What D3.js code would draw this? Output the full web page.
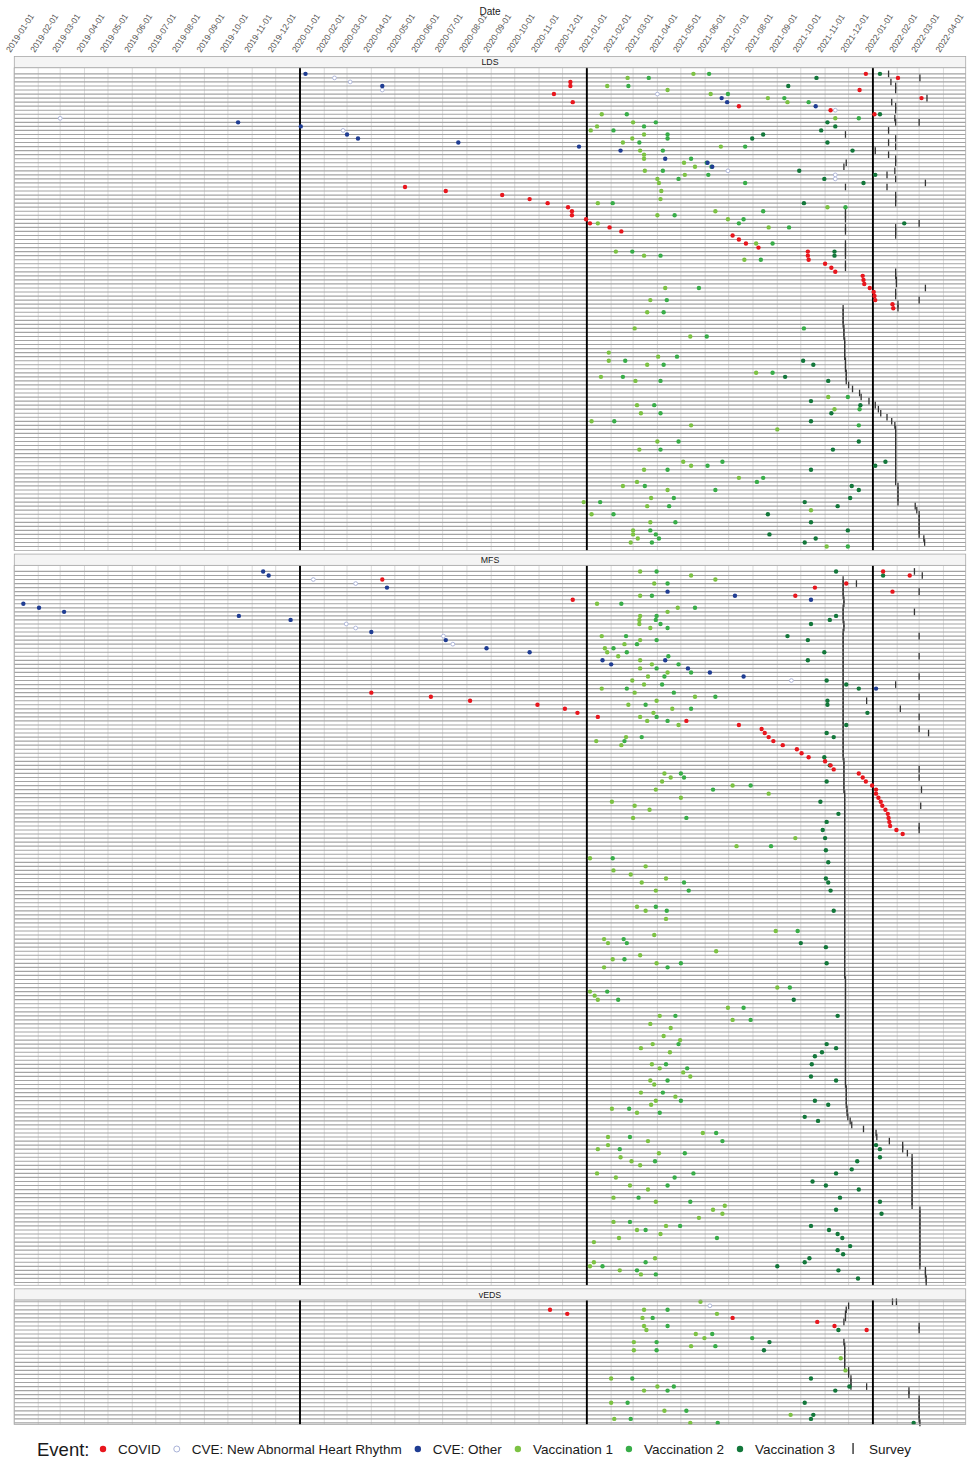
<!DOCTYPE html>
<html>
<head>
<meta charset="utf-8">
<script src="https://cdn.jsdelivr.net/npm/d3@7"></script>
<style>
  body { margin: 0; background: #fff; }
  text { font-family: "Liberation Sans", Arial, sans-serif; }
</style>
</head>
<body>
<svg id="chart" width="969" height="1460"></svg>
<script>

// ---- data: [row, date] per panel and event type ----

const panelNames = [ "LDS", "MFS", "vEDS" ];
const panelRows = [ 118, 177, 31 ];

const ldsCovid = [[0,"2021-12-23"],[1,"2022-02-02"],[2,"2020-12-11"],[3,"2020-12-11"],[4,"2021-12-15"],[5,"2020-11-20"],[6,"2022-03-04"],[7,"2020-12-14"],[8,"2021-07-14"],[9,"2021-11-08"],[10,"2022-01-03"],
  [28,"2020-05-14"],[29,"2020-07-05"],[30,"2020-09-15"],[31,"2020-10-20"],[32,"2020-11-12"],[33,"2020-12-08"],[34,"2020-12-13"],[35,"2020-12-13"],[36,"2020-12-31"],[37,"2021-01-05"],[38,"2021-01-30"],[39,"2021-02-14"],
  [40,"2021-07-06"],[41,"2021-07-14"],[42,"2021-07-23"],[43,"2021-08-08"],[44,"2021-10-10"],[45,"2021-10-10"],[46,"2021-10-11"],[47,"2021-11-01"],[48,"2021-11-09"],[49,"2021-11-14"],[50,"2021-12-19"],[51,"2021-12-20"],
  [52,"2021-12-21"],[53,"2021-12-28"],[54,"2022-01-02"],[55,"2022-01-03"],[56,"2022-01-04"],[57,"2022-01-26"],[58,"2022-01-27"]];
const ldsRhythm = [[1,"2020-02-14"],[2,"2020-03-05"],[4,"2020-04-15"],[5,"2021-04-01"],[9,"2021-11-14"],[11,"2019-03-01"],[14,"2020-02-25"],[24,"2021-06-30"],[25,"2021-11-14"],[26,"2021-11-14"]];
const ldsOther = [[0,"2020-01-08"],[3,"2020-04-15"],[6,"2021-06-22"],[7,"2021-06-29"],[8,"2021-10-20"],[12,"2019-10-14"],[13,"2020-01-02"],[15,"2020-03-01"],[16,"2020-03-15"],[17,"2020-07-21"],[18,"2020-12-22"],[19,"2021-02-13"],[21,"2021-04-11"],[22,"2021-06-04"],[23,"2021-06-10"]];
const ldsVacc1 = [[0,"2021-05-17"],[1,"2021-02-22"],[3,"2021-01-27"],[4,"2021-04-14"],[5,"2021-06-08"],[6,"2021-08-20"],[7,"2021-09-14"],[10,"2021-01-20"],[11,"2021-11-14"],[12,"2021-03-01"],[13,"2021-01-14"],[14,"2021-01-06"],
  [15,"2021-03-15"],[16,"2021-02-28"],[17,"2021-02-16"],[18,"2021-06-21"],[19,"2021-03-10"],[20,"2021-03-15"],[21,"2021-03-15"],[22,"2021-05-05"],[23,"2021-05-19"],[24,"2021-03-16"],[25,"2021-05-06"],[26,"2021-04-01"],
  [27,"2021-04-03"],[29,"2021-04-06"],[31,"2021-04-05"],[32,"2021-01-15"],[33,"2021-11-04"],[34,"2021-06-14"],[35,"2021-04-01"],[36,"2021-06-30"],[37,"2021-01-15"],[38,"2021-08-21"],[42,"2021-08-05"],[44,"2021-02-07"],
  [45,"2021-03-15"],[46,"2021-07-21"],[53,"2021-04-11"],[56,"2021-03-23"],[59,"2021-03-19"],[63,"2021-03-03"],[65,"2021-05-13"],[69,"2021-01-29"],[70,"2021-04-02"],[71,"2021-01-29"],[72,"2021-03-19"],[74,"2021-08-05"],
  [75,"2021-01-19"],[76,"2021-03-04"],[80,"2021-11-05"],[82,"2021-03-06"],[83,"2021-11-13"],[84,"2021-03-11"],[86,"2021-01-07"],[87,"2021-05-14"],[88,"2021-09-01"],[91,"2021-04-01"],[93,"2021-03-09"],[96,"2021-05-04"],
  [97,"2021-05-14"],[98,"2021-03-15"],[100,"2021-07-14"],[101,"2021-03-06"],[102,"2021-02-16"],[103,"2021-04-14"],[105,"2021-03-24"],[106,"2020-12-28"],[107,"2021-03-19"],[108,"2021-10-14"],[109,"2021-01-07"],
  [111,"2021-03-23"],[113,"2021-03-01"],[114,"2021-03-01"],[115,"2021-03-07"],[116,"2021-02-26"],[117,"2021-11-03"]];
const ldsVacc2 = [[0,"2021-06-06"],[1,"2021-03-21"],[3,"2021-02-23"],[5,"2021-06-30"],[6,"2021-09-10"],[7,"2021-10-11"],[10,"2021-02-21"],[11,"2021-12-14"],[12,"2021-03-30"],[13,"2021-03-15"],[14,"2021-02-04"],
  [15,"2021-04-14"],[16,"2021-04-14"],[17,"2021-03-09"],[18,"2021-07-22"],[19,"2021-04-08"],[21,"2021-05-14"],[22,"2021-06-03"],[23,"2021-06-09"],[24,"2021-04-08"],[25,"2021-06-05"],[26,"2021-04-28"],[27,"2021-07-22"],
  [32,"2021-02-03"],[33,"2021-11-27"],[34,"2021-08-14"],[35,"2021-04-23"],[36,"2021-07-20"],[37,"2021-07-14"],[38,"2021-09-16"],[42,"2021-08-26"],[44,"2021-02-28"],[45,"2021-04-05"],[46,"2021-08-11"],[53,"2021-05-24"],
  [56,"2021-04-13"],[59,"2021-04-09"],[63,"2021-10-05"],[65,"2021-06-03"],[70,"2021-04-26"],[71,"2021-02-19"],[72,"2021-04-09"],[74,"2021-08-26"],[75,"2021-02-16"],[76,"2021-04-05"],[80,"2021-11-30"],[82,"2021-03-28"],
  [83,"2021-12-15"],[84,"2021-04-05"],[86,"2021-02-05"],[87,"2021-12-14"],[91,"2021-04-28"],[93,"2021-04-05"],[96,"2021-06-23"],[97,"2021-06-04"],[98,"2021-04-14"],[100,"2021-08-14"],[101,"2021-08-06"],[102,"2021-03-16"],
  [103,"2021-06-14"],[105,"2021-04-22"],[106,"2021-01-18"],[107,"2021-04-16"],[109,"2021-02-04"],[111,"2021-04-24"],[113,"2021-03-23"],[114,"2021-03-30"],[115,"2021-04-03"],[116,"2021-03-25"],[117,"2021-11-30"]];
const ldsVacc3 = [[0,"2022-01-10"],[1,"2021-10-21"],[3,"2021-09-15"],[10,"2022-01-10"],[12,"2021-11-04"],[13,"2021-11-14"],[14,"2021-10-27"],[15,"2021-08-14"],[16,"2021-07-31"],[17,"2021-11-04"],[19,"2021-12-06"],
  [24,"2021-09-29"],[25,"2022-01-04"],[26,"2021-10-31"],[27,"2021-12-20"],[32,"2021-10-05"],[37,"2022-02-10"],[44,"2021-11-13"],[45,"2021-11-13"],[71,"2021-10-04"],[72,"2021-10-17"],[75,"2021-09-11"],[76,"2021-11-05"],
  [81,"2021-10-14"],[82,"2021-12-16"],[84,"2021-11-09"],[86,"2021-10-14"],[91,"2021-12-14"],[93,"2021-11-11"],[96,"2022-01-17"],[97,"2022-01-04"],[98,"2021-10-14"],[102,"2021-12-05"],[103,"2021-12-14"],[105,"2021-12-03"],
  [106,"2021-10-06"],[107,"2021-11-17"],[109,"2021-08-20"],[111,"2021-10-14"],[113,"2021-11-30"],[114,"2021-08-22"],[115,"2021-10-20"],[116,"2021-10-06"]];
const ldsSurvey = [[0,"2022-01-21"],[1,"2022-03-02"],[2,"2022-01-24"],[3,"2022-01-30"],[4,"2022-01-30"],[6,"2022-03-11"],[7,"2022-01-25"],[8,"2022-01-30"],[9,"2022-01-30"],[11,"2022-01-29"],[12,"2022-03-01"],[12,"2022-01-30"],
  [14,"2022-01-21"],[15,"2021-11-27"],[16,"2022-01-30"],[17,"2022-01-21"],[18,"2022-01-30"],[19,"2022-01-04"],[20,"2022-01-21"],[21,"2022-01-30"],[22,"2021-11-28"],[22,"2022-01-30"],[23,"2021-11-25"],[24,"2022-01-29"],
  [25,"2022-01-19"],[26,"2022-01-30"],[27,"2022-03-09"],[28,"2021-11-27"],[28,"2022-01-19"],[30,"2022-01-30"],[31,"2022-01-30"],[32,"2022-01-30"],[34,"2021-11-27"],[35,"2021-11-27"],[36,"2021-11-27"],[37,"2022-03-01"],
  [38,"2021-11-27"],[38,"2022-01-30"],[39,"2021-11-27"],[39,"2022-01-30"],[40,"2022-01-30"],[42,"2021-11-27"],[43,"2021-11-27"],[44,"2021-11-27"],[45,"2021-11-27"],[47,"2021-11-27"],[48,"2021-11-27"],[49,"2022-01-30"],
  [50,"2022-01-30"],[51,"2022-01-31"],[52,"2022-01-31"],[53,"2022-03-09"],[54,"2022-01-30"],[55,"2022-01-30"],[56,"2022-03-01"],[57,"2022-02-02"],[58,"2022-02-02"],[58,"2021-11-24"],[59,"2021-11-24"],[60,"2021-11-24"],
  [61,"2021-11-24"],[62,"2021-11-24"],[63,"2021-11-25"],[64,"2021-11-25"],[65,"2021-11-25"],[66,"2021-11-26"],[67,"2021-11-26"],[68,"2021-11-26"],[69,"2021-11-26"],[70,"2021-11-26"],[71,"2021-11-27"],[72,"2021-11-27"],
  [73,"2021-11-27"],[74,"2021-11-28"],[75,"2021-11-28"],[76,"2021-11-28"],[77,"2021-12-01"],[78,"2021-12-06"],[79,"2021-12-15"],[80,"2021-12-17"],[81,"2021-12-27"],[82,"2022-01-04"],[83,"2022-01-08"],[84,"2022-01-11"],
  [85,"2022-01-19"],[86,"2022-01-25"],[87,"2022-01-29"],[88,"2022-01-30"],[89,"2022-01-30"],[90,"2022-01-30"],[91,"2022-01-30"],[92,"2022-01-30"],[93,"2022-01-30"],[94,"2022-01-30"],[95,"2022-01-30"],[96,"2022-01-30"],
  [97,"2022-01-30"],[98,"2022-01-30"],[99,"2022-01-30"],[100,"2022-01-30"],[101,"2022-01-30"],[102,"2022-02-02"],[103,"2022-02-02"],[104,"2022-02-02"],[105,"2022-02-02"],[106,"2022-02-02"],[107,"2022-02-24"],
  [108,"2022-02-26"],[109,"2022-03-01"],[110,"2022-03-01"],[111,"2022-03-01"],[112,"2022-03-01"],[113,"2022-03-01"],[114,"2022-03-01"],[115,"2022-03-07"],[116,"2022-03-08"]];

const mfsCovid = [[0,"2022-01-14"],[1,"2022-02-17"],[2,"2020-04-15"],[3,"2021-11-28"],[4,"2021-10-19"],[5,"2022-01-26"],[6,"2021-09-24"],[7,"2020-12-14"],
  [30,"2020-04-01"],[31,"2020-06-16"],[32,"2020-08-05"],[33,"2020-10-30"],[34,"2020-12-04"],[35,"2020-12-20"],[36,"2021-01-15"],[37,"2021-05-08"],[38,"2021-07-14"],[39,"2021-08-12"],[40,"2021-08-16"],
  [41,"2021-08-21"],[42,"2021-08-27"],[43,"2021-09-08"],[44,"2021-09-26"],[45,"2021-10-02"],[46,"2021-10-11"],[47,"2021-11-01"],[48,"2021-11-08"],[49,"2021-11-12"],[50,"2021-12-14"],[51,"2021-12-19"],
  [52,"2021-12-23"],[53,"2021-12-31"],[54,"2022-01-05"],[55,"2022-01-05"],[56,"2022-01-08"],[57,"2022-01-11"],[58,"2022-01-13"],[59,"2022-01-17"],[60,"2022-01-20"],[61,"2022-01-21"],[62,"2022-01-22"],
  [63,"2022-01-23"],[64,"2022-01-31"],[65,"2022-02-08"]];
const mfsRhythm = [[2,"2020-01-18"],[3,"2020-03-12"],[13,"2020-02-29"],[14,"2020-03-12"],[16,"2020-07-02"],[18,"2020-07-14"],[27,"2021-09-19"]];
const mfsOther = [[0,"2019-11-15"],[1,"2019-11-22"],[4,"2020-04-21"],[5,"2021-04-14"],[6,"2021-07-09"],[7,"2021-10-14"],[8,"2019-01-13"],[9,"2019-02-02"],[10,"2019-03-06"],[11,"2019-10-15"],[12,"2019-12-20"],[15,"2020-04-01"],
  [17,"2020-07-05"],[19,"2020-08-26"],[20,"2020-10-20"],[22,"2021-01-21"],[22,"2021-04-11"],[23,"2021-02-01"],[24,"2021-05-10"],[25,"2021-06-07"],[26,"2021-07-20"],[29,"2022-01-05"]];
const mfsVacc1 = [[0,"2021-03-10"],[1,"2021-05-14"],[2,"2021-06-14"],[3,"2021-03-28"],[6,"2021-03-10"],[8,"2021-01-14"],[9,"2021-04-27"],[10,"2021-04-14"],[11,"2021-03-10"],[12,"2021-03-09"],[13,"2021-03-09"],[14,"2021-03-23"],[16,"2021-01-20"],
  [17,"2021-03-10"],[18,"2021-02-18"],[19,"2021-01-24"],[20,"2021-01-27"],[21,"2021-02-10"],[22,"2021-03-10"],[23,"2021-03-25"],[24,"2021-03-10"],[25,"2021-04-14"],[26,"2021-03-20"],[27,"2021-02-28"],[28,"2021-03-15"],
  [29,"2021-01-20"],[30,"2021-03-03"],[31,"2021-05-19"],[32,"2021-03-31"],[33,"2021-02-23"],[34,"2021-04-20"],[35,"2021-03-27"],[36,"2021-03-10"],[37,"2021-03-19"],[38,"2021-04-28"],[41,"2021-02-20"],[42,"2021-01-13"],
  [43,"2021-02-14"],[50,"2021-04-10"],[51,"2021-04-18"],[52,"2021-04-07"],[53,"2021-07-06"],[54,"2021-03-30"],[55,"2021-08-21"],[56,"2021-05-01"],[57,"2021-02-02"],[58,"2021-03-03"],[59,"2021-03-22"],[61,"2021-03-01"],
  [66,"2021-09-24"],[68,"2021-07-11"],[71,"2021-01-05"],[73,"2021-03-17"],[74,"2021-02-04"],[75,"2021-02-26"],[76,"2021-04-12"],[77,"2021-03-12"],[79,"2021-03-30"],[83,"2021-03-06"],[84,"2021-03-17"],[86,"2021-04-12"],
  [89,"2021-08-30"],[90,"2021-03-28"],[91,"2021-01-23"],[92,"2021-01-28"],[94,"2021-06-15"],[95,"2021-03-10"],[96,"2021-02-03"],[97,"2021-03-31"],[98,"2021-01-23"],[103,"2021-09-01"],[104,"2021-01-05"],[105,"2021-01-11"],
  [106,"2021-01-15"],[108,"2021-06-30"],[110,"2021-04-04"],[111,"2021-07-06"],[112,"2021-03-23"],[113,"2021-04-18"],[115,"2021-04-09"],[116,"2021-04-30"],[117,"2021-03-26"],[118,"2021-03-11"],[119,"2021-04-17"],
  [122,"2021-03-25"],[123,"2021-04-04"],[124,"2021-05-04"],[125,"2021-05-13"],[126,"2021-03-23"],[127,"2021-03-28"],[129,"2021-03-11"],[130,"2021-04-24"],[131,"2021-03-30"],[132,"2021-03-24"],[133,"2021-02-02"],
  [134,"2021-03-06"],[139,"2021-05-29"],[140,"2021-01-28"],[141,"2021-03-20"],[142,"2021-01-28"],[143,"2021-01-15"],[144,"2021-04-03"],[145,"2021-02-13"],[146,"2021-02-27"],[147,"2021-03-10"],[149,"2021-01-14"],
  [150,"2021-02-07"],[152,"2021-02-25"],[153,"2021-03-20"],[155,"2021-02-04"],[156,"2021-03-30"],[157,"2021-06-26"],[158,"2021-06-11"],[159,"2021-06-23"],[160,"2021-05-24"],[161,"2021-02-04"],[162,"2021-04-12"],
  [163,"2021-03-06"],[164,"2021-04-05"],[165,"2021-02-11"],[166,"2021-01-10"],[170,"2021-03-29"],[171,"2021-01-10"],[172,"2021-01-05"],[173,"2021-02-12"],[174,"2021-03-11"]];
const mfsVacc2 = [[0,"2021-03-31"],[3,"2021-04-14"],[6,"2021-03-25"],[8,"2021-02-14"],[9,"2021-05-19"],[11,"2021-03-31"],[12,"2021-03-30"],[13,"2021-04-05"],[14,"2021-04-14"],[16,"2021-02-20"],
  [17,"2021-03-31"],[18,"2021-03-06"],[19,"2021-02-04"],[20,"2021-02-21"],[21,"2021-04-15"],[23,"2021-04-28"],[24,"2021-03-31"],[25,"2021-05-14"],[26,"2021-04-10"],[28,"2021-04-07"],[29,"2021-02-21"],[30,"2021-04-22"],
  [31,"2021-06-14"],[33,"2021-03-17"],[34,"2021-05-14"],[36,"2021-03-31"],[37,"2021-04-14"],[41,"2021-03-12"],[42,"2021-02-18"],[50,"2021-05-01"],[51,"2021-05-05"],[53,"2021-07-29"],[54,"2021-06-11"],[61,"2021-05-08"],
  [68,"2021-08-24"],[71,"2021-02-03"],[77,"2021-05-05"],[79,"2021-05-11"],[83,"2021-03-30"],[84,"2021-04-13"],[89,"2021-09-27"],[91,"2021-02-17"],[92,"2021-02-21"],[96,"2021-02-18"],[97,"2021-05-01"],[98,"2021-04-14"],
  [103,"2021-09-17"],[104,"2021-01-27"],[106,"2021-02-10"],[108,"2021-07-20"],[110,"2021-04-24"],[111,"2021-07-29"],[117,"2021-04-28"],[122,"2021-04-12"],[123,"2021-05-09"],[126,"2021-04-14"],[129,"2021-04-08"],
  [131,"2021-05-01"],[133,"2021-02-24"],[134,"2021-04-04"],[139,"2021-06-15"],[140,"2021-02-25"],[141,"2021-06-23"],[143,"2021-02-12"],[144,"2021-05-06"],[146,"2021-03-29"],[149,"2021-05-17"],[150,"2021-04-23"],
  [152,"2021-04-14"],[155,"2021-03-08"],[156,"2021-05-13"],[161,"2021-02-25"],[162,"2021-04-30"],[163,"2021-03-17"],[165,"2021-06-16"],[171,"2021-03-17"],[172,"2021-01-21"],[173,"2021-03-06"],[174,"2021-03-30"]];
const mfsVacc3 = [[0,"2021-11-15"],[1,"2022-01-14"],[11,"2021-11-15"],[12,"2021-11-07"],[13,"2021-10-14"],[16,"2021-09-14"],
  [17,"2021-10-10"],[20,"2021-10-31"],[22,"2021-10-10"],[27,"2021-11-03"],[28,"2021-11-28"],[29,"2021-12-14"],[32,"2021-11-04"],[33,"2021-11-04"],[35,"2021-12-25"],[38,"2021-11-28"],[40,"2021-11-03"],
  [41,"2021-11-12"],[46,"2021-10-31"],[48,"2021-11-07"],[52,"2021-11-03"],[57,"2021-10-26"],[60,"2021-11-18"],[62,"2021-11-03"],[64,"2021-10-29"],[66,"2021-11-01"],[69,"2021-11-02"],[72,"2021-11-05"],
  [76,"2021-11-02"],[77,"2021-11-05"],[79,"2021-11-08"],[84,"2021-11-12"],[92,"2021-10-01"],[93,"2021-11-02"],[97,"2021-11-03"],[106,"2021-09-22"],[110,"2021-11-17"],[117,"2021-11-03"],[118,"2021-11-15"],
  [119,"2021-10-28"],[120,"2021-10-19"],[122,"2021-10-15"],[125,"2021-10-14"],[126,"2021-11-15"],[131,"2021-10-19"],[132,"2021-11-05"],[135,"2021-10-06"],[136,"2021-10-23"],[142,"2022-01-05"],[143,"2022-01-10"],
  [145,"2022-01-10"],[146,"2021-12-12"],[148,"2021-12-05"],[149,"2021-11-15"],[151,"2021-10-16"],[152,"2021-11-02"],[153,"2021-12-14"],[155,"2021-11-20"],[156,"2022-01-10"],[158,"2021-11-15"],[159,"2022-01-12"],
  [162,"2021-10-14"],[163,"2021-11-06"],[164,"2021-11-17"],[165,"2021-11-23"],[167,"2021-12-03"],[168,"2021-11-17"],[169,"2021-11-24"],[170,"2021-10-12"],[171,"2021-10-06"],[172,"2021-09-01"],[173,"2021-11-18"],
  [175,"2021-12-13"]];
const mfsSurvey = [[0,"2022-02-23"],[1,"2022-03-05"],[2,"2021-11-24"],[3,"2021-12-11"],[3,"2021-11-24"],[4,"2021-11-24"],[5,"2021-11-24"],[5,"2022-03-01"],[6,"2021-11-24"],[7,"2021-11-25"],[8,"2021-11-25"],[9,"2021-11-24"],
  [10,"2021-11-24"],[10,"2022-02-23"],[11,"2021-11-24"],[12,"2021-11-24"],[13,"2021-11-25"],[14,"2021-11-25"],[15,"2021-11-24"],[16,"2021-11-24"],[16,"2022-03-01"],[17,"2021-11-24"],[18,"2021-11-24"],[19,"2021-11-24"],
  [20,"2021-11-24"],[21,"2021-11-24"],[21,"2022-03-01"],[22,"2021-11-24"],[23,"2021-11-24"],[24,"2021-11-24"],[25,"2021-11-24"],[26,"2021-11-24"],[26,"2022-03-01"],[27,"2021-11-24"],[28,"2021-11-24"],[28,"2022-01-30"],
  [29,"2021-11-24"],[30,"2021-11-24"],[31,"2021-11-24"],[31,"2022-03-01"],[32,"2021-11-24"],[32,"2021-12-24"],[33,"2021-11-24"],[34,"2021-11-24"],[34,"2022-02-05"],[35,"2021-11-24"],[36,"2021-11-24"],[36,"2022-03-01"],
  [37,"2021-11-24"],[38,"2021-11-24"],[39,"2021-11-24"],[39,"2022-03-01"],[40,"2021-11-24"],[40,"2022-03-13"],[41,"2021-11-24"],[42,"2021-11-24"],[43,"2021-11-24"],[44,"2021-11-24"],[45,"2021-11-24"],[46,"2021-11-24"],
  [47,"2021-11-25"],[48,"2021-11-25"],[49,"2021-11-25"],[49,"2022-03-01"],[50,"2021-11-25"],[51,"2021-11-25"],[51,"2022-03-01"],[52,"2021-11-25"],[53,"2021-11-25"],[54,"2021-11-25"],[54,"2022-03-04"],[55,"2021-11-26"],
  [56,"2021-11-26"],[57,"2021-11-26"],[58,"2021-11-26"],[58,"2022-03-03"],[59,"2021-11-26"],[60,"2021-11-26"],[61,"2021-11-26"],[62,"2021-11-26"],[63,"2021-11-26"],[63,"2022-03-01"],[64,"2021-11-26"],[64,"2022-03-01"],
  [65,"2021-11-26"],[66,"2021-11-26"],[67,"2021-11-26"],[68,"2021-11-26"],[69,"2021-11-26"],[70,"2021-11-26"],[71,"2021-11-26"],[72,"2021-11-26"],[73,"2021-11-26"],[74,"2021-11-26"],[75,"2021-11-26"],[76,"2021-11-26"],
  [77,"2021-11-26"],[78,"2021-11-26"],[79,"2021-11-26"],[80,"2021-11-26"],[81,"2021-11-26"],[82,"2021-11-26"],[83,"2021-11-26"],[84,"2021-11-26"],[85,"2021-11-26"],[86,"2021-11-26"],[87,"2021-11-26"],[88,"2021-11-26"],
  [89,"2021-11-26"],[90,"2021-11-26"],[91,"2021-11-26"],[92,"2021-11-26"],[93,"2021-11-26"],[94,"2021-11-26"],[95,"2021-11-26"],[96,"2021-11-26"],[97,"2021-11-26"],[98,"2021-11-26"],[99,"2021-11-26"],[100,"2021-11-26"],
  [101,"2021-11-27"],[102,"2021-11-27"],[103,"2021-11-27"],[104,"2021-11-27"],[105,"2021-11-27"],[106,"2021-11-27"],[107,"2021-11-27"],[108,"2021-11-27"],[109,"2021-11-27"],[110,"2021-11-27"],[111,"2021-11-27"],
  [112,"2021-11-27"],[113,"2021-11-27"],[114,"2021-11-27"],[115,"2021-11-27"],[116,"2021-11-27"],[117,"2021-11-27"],[118,"2021-11-27"],[119,"2021-11-27"],[120,"2021-11-27"],[121,"2021-11-27"],[122,"2021-11-27"],
  [123,"2021-11-27"],[124,"2021-11-27"],[125,"2021-11-27"],[126,"2021-11-27"],[127,"2021-11-27"],[128,"2021-11-28"],[129,"2021-11-28"],[130,"2021-11-28"],[131,"2021-11-28"],[132,"2021-11-28"],[133,"2021-11-29"],
  [134,"2021-11-29"],[135,"2021-11-30"],[136,"2021-12-03"],[137,"2021-12-05"],[138,"2021-12-20"],[139,"2022-01-05"],[140,"2022-01-06"],[141,"2022-01-22"],[142,"2022-02-08"],[143,"2022-02-08"],[144,"2022-02-14"],
  [145,"2022-02-20"],[146,"2022-02-20"],[147,"2022-02-20"],[148,"2022-02-20"],[149,"2022-02-20"],[150,"2022-02-20"],[151,"2022-02-20"],[152,"2022-02-20"],[153,"2022-02-20"],[154,"2022-02-20"],[155,"2022-02-20"],
  [156,"2022-02-20"],[157,"2022-02-20"],[158,"2022-03-02"],[159,"2022-03-02"],[160,"2022-03-02"],[161,"2022-03-02"],[162,"2022-03-02"],[163,"2022-03-02"],[164,"2022-03-02"],[165,"2022-03-02"],[166,"2022-03-02"],
  [167,"2022-03-02"],[168,"2022-03-02"],[169,"2022-03-02"],[170,"2022-03-02"],[171,"2022-03-02"],[172,"2022-03-02"],[173,"2022-03-09"],[174,"2022-03-09"],[175,"2022-03-10"],[176,"2022-03-10"]];

const vedsCovid = [[2,"2020-11-15"],[3,"2020-12-07"],[4,"2021-07-06"],[5,"2021-10-22"],[6,"2021-11-13"],[7,"2021-12-24"]];
const vedsRhythm = [[1,"2021-06-07"]];
const vedsOther = [];
const vedsVacc1 = [[0,"2021-05-26"],[2,"2021-03-15"],[3,"2021-06-16"],[4,"2021-03-13"],[6,"2021-03-15"],[7,"2021-03-18"],[8,"2021-05-20"],[9,"2021-05-31"],[10,"2021-03-02"],[11,"2021-05-14"],[12,"2021-03-02"],
  [14,"2021-11-21"],[17,"2021-11-27"],[19,"2021-02-01"],[21,"2021-04-01"],[22,"2021-03-15"],[25,"2021-02-01"],[27,"2021-04-10"],[28,"2021-09-18"],[29,"2021-02-05"],[30,"2021-05-13"]];
const vedsVacc2 = [[2,"2021-04-14"],[4,"2021-03-26"],[6,"2021-04-14"],[8,"2021-06-10"],[9,"2021-07-31"],[10,"2021-03-31"],[11,"2021-06-14"],[12,"2021-03-31"],[19,"2021-02-28"],[21,"2021-04-22"],[22,"2021-04-14"],
  [25,"2021-02-22"],[27,"2021-05-08"],[29,"2021-02-26"],[30,"2021-06-17"]];
const vedsVacc3 = [[7,"2021-11-18"],[10,"2021-08-22"],[12,"2021-08-15"],[19,"2021-10-14"],[21,"2021-12-02"],[22,"2021-11-14"],[25,"2021-10-06"],[28,"2021-10-17"],[29,"2021-10-14"],[30,"2022-02-22"]];
const vedsSurvey = [[0,"2022-01-26"],[0,"2022-01-31"],[1,"2021-12-01"],[2,"2021-11-28"],[3,"2021-11-27"],[4,"2021-11-27"],[5,"2021-11-25"],[6,"2022-03-01"],[7,"2022-03-01"],[10,"2021-11-25"],[11,"2021-11-26"],
  [12,"2021-11-26"],[13,"2021-11-26"],[14,"2021-11-26"],[15,"2021-11-26"],[16,"2021-11-26"],[17,"2021-12-01"],[18,"2021-12-01"],[19,"2021-12-04"],[20,"2021-12-04"],[21,"2021-12-04"],[21,"2021-12-24"],[22,"2022-02-16"],
  [23,"2022-02-16"],[24,"2022-03-01"],[25,"2022-03-01"],[26,"2022-03-01"],[27,"2022-03-01"],[28,"2022-03-01"],[29,"2022-03-01"],[30,"2022-03-02"]];

const eventTypes = [ "covid", "rhythm", "other", "vacc1", "vacc2", "vacc3", "survey" ];
const eventLabels = [ "COVID", "CVE: New Abnormal Heart Rhythm", "CVE: Other", "Vaccination 1", "Vaccination 2", "Vaccination 3", "Survey" ];
const yearLines = [ "2020-01-01", "2021-01-01", "2022-01-01" ];

// ---- styles ----

const colors = {
  covid: "#e8161d", rhythm: "#a9b2d8", other: "#1f3d93",
  vacc1: "#7cc243", vacc2: "#38ad48", vacc3: "#12773a", survey: "#333333"
};

const parseDate = d3.utcParse( "%Y-%m-%d" );

const eventTable = [
  [ "LDS", [ ldsCovid, ldsRhythm, ldsOther, ldsVacc1, ldsVacc2, ldsVacc3, ldsSurvey ] ],
  [ "MFS", [ mfsCovid, mfsRhythm, mfsOther, mfsVacc1, mfsVacc2, mfsVacc3, mfsSurvey ] ],
  [ "vEDS", [ vedsCovid, vedsRhythm, vedsOther, vedsVacc1, vedsVacc2, vedsVacc3, vedsSurvey ] ]
];

const events = [];
eventTable.forEach( ( [ panel, lists ] ) => {
  lists.forEach( ( list, i ) => {
    list.forEach( d => events.push( { panel: panel, type: eventTypes[ i ], row: d[ 0 ], date: parseDate( d[ 1 ] ) } ) );
  } );
} );

// ---- layout ----

const svg = d3.select( "#chart" );
const plotLeft = 14.3, plotRight = 965.7;
const rowStep = 4.04;
const stripHeight = 11.3;
const panelGap = 3.5;
const padTop = [ 1.5, 1.5, 0.4 ];
const padBottom = [ 1.0, 0.7, 0.4 ];

const x = d3.scaleUtc()
  .domain( [ parseDate( "2020-01-01" ), parseDate( "2022-01-01" ) ] )
  .range( [ 300, 872.9 ] );

let cursor = 56.5;
const panels = panelNames.map( ( name, i ) => {
  const stripTop = cursor;
  const top = stripTop + stripHeight;
  const height = ( panelRows[ i ] - 1 + padTop[ i ] + padBottom[ i ] ) * rowStep;
  const y = d3.scaleLinear()
    .domain( [ 0, panelRows[ i ] - 1 ] )
    .range( [ top + padTop[ i ] * rowStep, top + height - padBottom[ i ] * rowStep ] );
  cursor = top + height + panelGap;
  return { name: name, stripTop: stripTop, top: top, height: height, y: y, rows: d3.range( panelRows[ i ] ) };
} );

const months = d3.utcMonth.range( parseDate( "2019-01-01" ), parseDate( "2022-04-02" ) );

// ---- title and top axis ----

svg.append( "text" )
  .attr( "x", ( plotLeft + plotRight ) / 2 )
  .attr( "y", 14.5 )
  .attr( "text-anchor", "middle" )
  .style( "font-size", "10px" )
  .attr( "fill", "#1a1a1a" )
  .text( "Date" );

svg.selectAll( "text.tick" )
  .data( months )
  .enter().append( "text" )
    .attr( "class", "tick" )
    .attr( "transform", d => "translate(" + ( x( d ) - 3.5 ) + ",53) rotate(-57)" )
    .attr( "fill", "#555" )
    .style( "font-size", "8.6px" )
    .text( d3.utcFormat( "%Y-%m-%d" ) );

// ---- panels ----

panels.forEach( p => {

  const g = svg.append( "g" );
  const panelEvents = events.filter( e => e.panel === p.name );

  // strip
  g.append( "rect" )
    .attr( "x", plotLeft ).attr( "y", p.stripTop )
    .attr( "width", plotRight - plotLeft ).attr( "height", stripHeight )
    .attr( "fill", "#f4f4f4" ).attr( "stroke", "#a8a8a8" ).attr( "stroke-width", 0.8 );

  g.append( "text" )
    .attr( "x", ( plotLeft + plotRight ) / 2 )
    .attr( "y", p.stripTop + stripHeight / 2 + 3.2 )
    .attr( "text-anchor", "middle" )
    .attr( "fill", "#1a1a1a" )
    .style( "font-size", "8.8px" )
    .text( p.name );

  g.append( "rect" )
    .attr( "x", plotLeft ).attr( "y", p.top )
    .attr( "width", plotRight - plotLeft ).attr( "height", p.height )
    .attr( "fill", "#ffffff" );

  // monthly grid
  g.selectAll( "line.vgrid" )
    .data( months )
    .enter().append( "line" )
      .attr( "class", "vgrid" )
      .attr( "x1", d => x( d ) ).attr( "x2", d => x( d ) )
      .attr( "y1", p.top ).attr( "y2", p.top + p.height )
      .attr( "stroke", "#d8d8d8" ).attr( "stroke-width", 0.9 );

  // one line per participant
  g.selectAll( "line.row" )
    .data( p.rows )
    .enter().append( "line" )
      .attr( "class", "row" )
      .attr( "x1", plotLeft ).attr( "x2", plotRight )
      .attr( "y1", d => p.y( d ) ).attr( "y2", d => p.y( d ) )
      .attr( "stroke", "#a3a3a3" ).attr( "stroke-width", 1.15 );

  // year boundaries
  g.selectAll( "line.year" )
    .data( yearLines.map( parseDate ) )
    .enter().append( "line" )
      .attr( "class", "year" )
      .attr( "x1", d => x( d ) ).attr( "x2", d => x( d ) )
      .attr( "y1", p.top ).attr( "y2", p.top + p.height )
      .attr( "stroke", "#000" ).attr( "stroke-width", 1.9 );

  // survey ticks
  g.selectAll( "line.survey" )
    .data( panelEvents.filter( e => e.type === "survey" ) )
    .enter().append( "line" )
      .attr( "class", "survey" )
      .attr( "x1", d => x( d.date ) ).attr( "x2", d => x( d.date ) )
      .attr( "y1", d => p.y( d.row ) - 3.3 ).attr( "y2", d => p.y( d.row ) + 3.3 )
      .attr( "stroke", colors.survey ).attr( "stroke-width", 1.3 );

  // point events
  [ "vacc1", "vacc2", "vacc3", "rhythm", "other", "covid" ].forEach( type => {
    g.selectAll( "circle." + type )
      .data( panelEvents.filter( e => e.type === type ) )
      .enter().append( "circle" )
        .attr( "class", type )
        .attr( "cx", d => x( d.date ) )
        .attr( "cy", d => p.y( d.row ) )
        .attr( "r", type === "rhythm" ? 1.9 : 2.2 )
        .attr( "fill", type === "rhythm" ? "#fff" : colors[ type ] )
        .attr( "stroke", type === "rhythm" ? colors.rhythm : "none" )
        .attr( "stroke-width", 0.9 );
  } );

  g.append( "rect" )
    .attr( "x", plotLeft ).attr( "y", p.top )
    .attr( "width", plotRight - plotLeft ).attr( "height", p.height )
    .attr( "fill", "none" ).attr( "stroke", "#a8a8a8" ).attr( "stroke-width", 0.8 );

} );

// ---- legend ----

const legend = svg.append( "g" );
const legendY = 1449;

legend.append( "text" )
  .attr( "x", 37 ).attr( "y", legendY + 6.5 )
  .style( "font-size", "18.5px" )
  .attr( "fill", "#1a1a1a" )
  .text( "Event:" );

let lx = 103;
eventTypes.forEach( ( type, i ) => {
  if( type === "survey" ) {
    legend.append( "line" )
      .attr( "x1", lx + 2 ).attr( "x2", lx + 2 )
      .attr( "y1", legendY - 6 ).attr( "y2", legendY + 5 )
      .attr( "stroke", colors.survey ).attr( "stroke-width", 1.4 );
  } else {
    legend.append( "circle" )
      .attr( "cx", lx ).attr( "cy", legendY )
      .attr( "r", type === "rhythm" ? 3 : 3.2 )
      .attr( "fill", type === "rhythm" ? "#fff" : colors[ type ] )
      .attr( "stroke", type === "rhythm" ? colors.rhythm : "none" )
      .attr( "stroke-width", 1 );
  }
  const t = legend.append( "text" )
    .attr( "x", lx + ( type === "survey" ? 18 : 15 ) )
    .attr( "y", legendY + 4.8 )
    .style( "font-size", "13.5px" )
    .attr( "fill", "#1a1a1a" )
    .text( eventLabels[ i ] );
  lx = lx + ( type === "survey" ? 18 : 15 ) + t.node().getComputedTextLength() + 16;
} );

</script>
</body>
</html>
